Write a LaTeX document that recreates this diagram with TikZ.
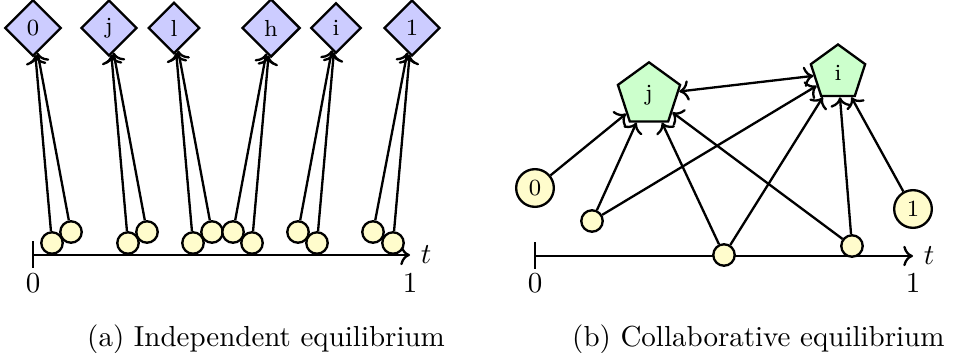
\documentclass[tikz,border=0pt]{standalone}
\usepackage{amsmath, amssymb}
\usepackage{tikz}
\usetikzlibrary{arrows.meta, shapes.geometric}
\usepackage{xcolor}

\begin{document}
\begin{tikzpicture}[x=0.345pt, y=-0.345pt,
  agent/.style={diamond, draw, thick, fill=blue!20, inner sep=2.45pt, font=\footnotesize},
  team/.style={regular polygon, regular polygon sides=5, draw, thick, fill=green!20, inner sep=3pt, font=\footnotesize},
  pt/.style={circle, draw, thick, fill=yellow!20, inner sep=0pt, minimum size=7.4pt},
  endpt/.style={circle, draw, thick, fill=yellow!20, inner sep=0pt, minimum size=13pt, font=\footnotesize}]
  \useasboundingbox (0,0) rectangle (953,353);

  % (a) independent
  \node[agent] (A0) at (33,28) {0};
  \node[agent] (Aj) at (109,28) {j};
  \node[agent] (Al) at (174,28) {l};
  \node[agent] (Ah) at (271,28) {h};
  \node[agent] (Ai) at (336,28) {i};
  \node[agent] (A1) at (412,28) {1};

  \coordinate (ta) at (33,255);
  \coordinate (ua) at (410,255);
  \draw[thick] (33,241) -- (33,268);
  \draw[->, thick] (ta) -- (ua) node[right] {$t$};
  \node (la0) at (33,283) {0};
  \node (la1) at (410,283) {1};

  \node[pt] (p1) at (52,243) {};
  \node[pt] (p2) at (71,232) {};
  \node[pt] (p3) at (128,243) {};
  \node[pt] (p4) at (147,232) {};
  \node[pt] (p5) at (193,243) {};
  \node[pt] (p6) at (212,232) {};
  \node[pt] (p7) at (233,232) {};
  \node[pt] (p8) at (252,243) {};
  \node[pt] (p9) at (298,232) {};
  \node[pt] (p10) at (317,243) {};
  \node[pt] (p11) at (373,232) {};
  \node[pt] (p12) at (393,243) {};

  \draw[->, thick] (p1) -- (A0);
  \draw[->, thick] (p2) -- (A0);
  \draw[->, thick] (p3) -- (Aj);
  \draw[->, thick] (p4) -- (Aj);
  \draw[->, thick] (p5) -- (Al);
  \draw[->, thick] (p6) -- (Al);
  \draw[->, thick] (p7) -- (Ah);
  \draw[->, thick] (p8) -- (Ah);
  \draw[->, thick] (p9) -- (Ai);
  \draw[->, thick] (p10) -- (Ai);
  \draw[->, thick] (p11) -- (A1);
  \draw[->, thick] (p12) -- (A1);

  \node[anchor=base west] (capa) at (77,346) {(a) Independent equilibrium};

  % (b) collaborative
  \node[team] (Bj) at (649,95) {j};
  \node[team] (Bi) at (838,73) {i};

  \coordinate (tb) at (535,256);
  \coordinate (ub) at (913,256);
  \draw[thick] (535,242) -- (535,269);
  \draw[->, thick] (tb) -- (ub) node[right] {$t$};
  \node (lb0) at (535,283) {0};
  \node (lb1) at (913,283) {1};

  \node[endpt] (q0) at (535,188) {0};
  \node[endpt] (q1) at (913,209) {1};
  \node[pt] (qa) at (592,221) {};
  \node[pt] (qb) at (724,255) {};
  \node[pt] (qc) at (852,246) {};

  \draw[->, thick] (q0) -- (Bj);
  \draw[->, thick] (qa) -- (Bj);
  \draw[->, thick] (qa) -- (Bi);
  \draw[->, thick] (qb) -- (Bj);
  \draw[->, thick] (qb) -- (Bi);
  \draw[->, thick] (qc) -- (Bj);
  \draw[->, thick] (qc) -- (Bi);
  \draw[->, thick] (q1) -- (Bi);
  \draw[<->, thick] (Bj) -- (Bi);

  \node[anchor=base west] (capb) at (562,346) {(b) Collaborative equilibrium};
\end{tikzpicture}
\end{document}
